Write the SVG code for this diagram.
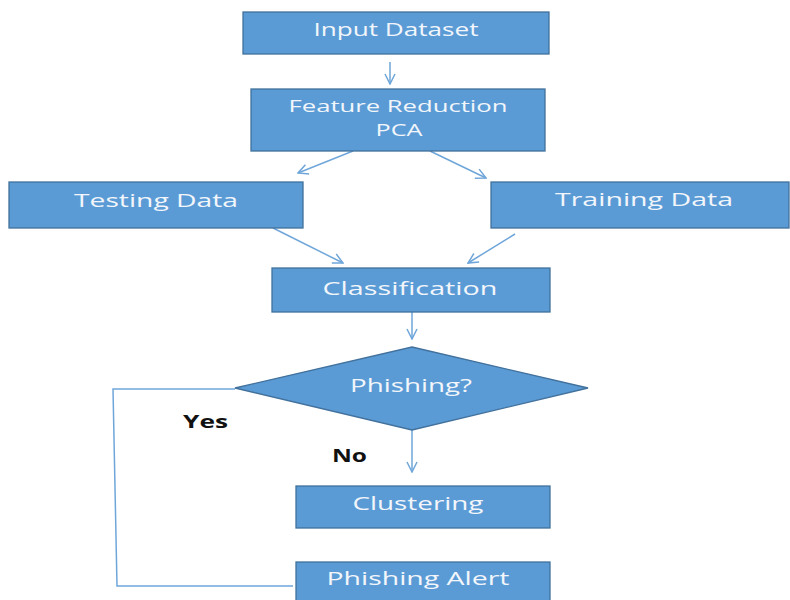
<svg xmlns="http://www.w3.org/2000/svg" width="790" height="600" viewBox="0 0 790 600">
  <defs>
    <marker id="open" viewBox="0 0 12 12" refX="11" refY="6" markerWidth="12" markerHeight="12" markerUnits="userSpaceOnUse" orient="auto">
      <path d="M1,1 L11,6 L1,11" fill="none" stroke="#6FA6DA" stroke-width="1.5"/>
    </marker>
    <style>
      .box { fill: #5B9BD5; stroke: #41719C; stroke-width: 1.3; }
      .lbl { font-family: "Open Sans", "Liberation Sans", sans-serif; font-size: 18px; fill: #F2F6FB; text-anchor: middle; }
      .sm { font-size: 17px; }
      .note { font-family: "Open Sans", "Liberation Sans", sans-serif; font-size: 17px; font-weight: bold; fill: #111111; }
      .wire { fill: none; stroke: #6FA6DA; stroke-width: 1.5; }
      .arrow { marker-end: url(#open); }
    </style>
  </defs>
  <rect width="790" height="600" fill="#FFFFFF"/>

  <g id="connectors">
    <line class="wire arrow" x1="390" y1="62" x2="390" y2="84"/>
    <line class="wire arrow" x1="353" y1="151" x2="298" y2="173"/>
    <line class="wire arrow" x1="430" y1="151" x2="486" y2="178"/>
    <line class="wire arrow" x1="273" y1="228" x2="343" y2="263"/>
    <line class="wire arrow" x1="515" y1="234" x2="468" y2="263"/>
    <line class="wire arrow" x1="412" y1="312" x2="412" y2="339"/>
    <line class="wire arrow" x1="412" y1="430" x2="412" y2="472"/>
    <polyline class="wire" points="235,389 113,389 117,586 293,586"/>
  </g>

  <g id="input-dataset">
    <rect class="box" x="243" y="12" width="306" height="42"/>
    <text class="lbl" x="396" y="36" textLength="165" lengthAdjust="spacingAndGlyphs">Input Dataset</text>
  </g>

  <g id="feature-reduction">
    <rect class="box" x="251" y="89" width="294" height="62"/>
    <text class="lbl sm" x="398" y="112" textLength="219" lengthAdjust="spacingAndGlyphs">Feature Reduction</text>
    <text class="lbl sm" x="399" y="136" textLength="47" lengthAdjust="spacingAndGlyphs">PCA</text>
  </g>

  <g id="testing-data">
    <rect class="box" x="9" y="182" width="294" height="46"/>
    <text class="lbl" x="156" y="207" textLength="164" lengthAdjust="spacingAndGlyphs">Testing Data</text>
  </g>

  <g id="training-data">
    <rect class="box" x="491" y="182" width="298" height="46"/>
    <text class="lbl" x="644" y="206" textLength="178" lengthAdjust="spacingAndGlyphs">Training Data</text>
  </g>

  <g id="classification">
    <rect class="box" x="272" y="268" width="278" height="44"/>
    <text class="lbl" x="410" y="295" textLength="175" lengthAdjust="spacingAndGlyphs">Classification</text>
  </g>

  <g id="phishing-decision">
    <polygon class="box" points="412,347 588,388 412,430 235,388"/>
    <text class="lbl" x="411" y="392" textLength="122" lengthAdjust="spacingAndGlyphs">Phishing?</text>
  </g>

  <g id="clustering">
    <rect class="box" x="296" y="486" width="254" height="42"/>
    <text class="lbl" x="418" y="510" textLength="131" lengthAdjust="spacingAndGlyphs">Clustering</text>
  </g>

  <g id="phishing-alert">
    <rect class="box" x="296" y="562" width="254" height="44"/>
    <text class="lbl" x="418" y="585" textLength="183" lengthAdjust="spacingAndGlyphs">Phishing Alert</text>
  </g>

  <g id="branch-labels">
    <text class="note" x="183" y="428" textLength="45" lengthAdjust="spacingAndGlyphs">Yes</text>
    <text class="note" x="332" y="462" textLength="35" lengthAdjust="spacingAndGlyphs">No</text>
  </g>
</svg>
